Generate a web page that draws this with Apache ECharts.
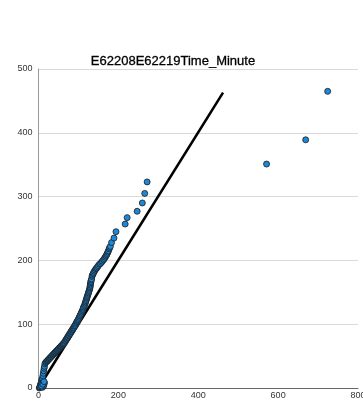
<!DOCTYPE html>
<html><head><meta charset="utf-8">
<script src="https://cdn.jsdelivr.net/npm/echarts@6/dist/echarts.min.js"></script>
<style>html,body{margin:0;padding:0;background:#fff}#c{width:363px;height:402px}</style>
</head><body><div id="c"></div>
<script>
var titleText = 'E62208E62219Time_Minute';
var observed = [
  2,3,4,5,6,7,8,9,10,11,
  12,13,14,15,10,12,13,15,8,11,
  14,16,18,20,21,23,24,26,27,29,
  30,32,33,35,36,38,39,41,42,44,
  45,47,48,50,51,53,54,56,57,59,
  60,62,63,65,66,68,69,71,72,74,
  75,77,78,80,81,83,84,86,87,89,
  90,92,93,95,96,98,99,101,102,104,
  105,107,108,110,111,112,113,115,116,117,
  118,119,120,121,122,123,124,125,126,127,
  128,129,129,130,130,131,131,132,133,134,
  135,137,138,140,142,144,146,148,150,153,
  155,158,160,163,165,167,169,171,172,174,
  175,177,178,180,183,189,194,217,222,247,
  260,266,272,571,669,724];
var expected = [
  0,1,2,5,7,8,12,14,15,19,
  23,27,31,34,1,3,4,8,3,6,
  10,38,40,41,42,43,44,45,46,47,
  48,49,50,51,52,53,54,55,56,57,
  58,59,60,61,62,63,64,65,66,67,
  68,69,70,71,73,74,76,77,79,80,
  82,83,85,86,88,89,91,92,94,95,
  97,98,100,102,104,105,107,109,111,113,
  115,117,119,121,123,125,127,129,131,133,
  135,137,139,141,143,145,147,149,151,153,
  155,157,159,161,163,165,167,169,171,175,
  177,179,181,183,185,187,188,190,192,194,
  195,197,199,201,203,205,207,209,211,213,
  215,218,220,222,228,235,245,257,267,277,
  290,305,323,351,389,465];
var refLineX = [0, 462];
var refLineY = [0, 463];
var xTicks = [0,200,400,600,800];
var yTicks = [0,100,200,300,400,500];

var n = Math.min(observed.length, expected.length);
var pts = [];
for (var i=0;i<n;i++) pts.push([observed[i], expected[i]]);
var linePts = refLineX.map(function(v,i){return [v, refLineY[i]];});

var chart = echarts.init(document.getElementById('c'), null, {renderer:'canvas'});
chart.setOption({
  animation:false,
  title:{text:titleText,left:168,textAlign:'center',top:50,
    textStyle:{fontFamily:'Liberation Sans, Arial, sans-serif',fontSize:13,fontWeight:'normal',color:'#000',
      textBorderColor:'#000',textBorderWidth:0.3}},
  grid:{left:38.5,right:5,top:69,bottom:14,outerBoundsMode:'none',containLabel:false},
  xAxis:{type:'value',min:0,max:800,interval:200,
    axisLine:{show:true,lineStyle:{color:'#666',width:1}},
    axisTick:{show:false},
    splitLine:{show:false},
    axisLabel:{fontFamily:'Liberation Sans, Arial, sans-serif',fontSize:9,color:'#333',margin:3}},
  yAxis:{type:'value',min:0,max:500,interval:100,
    axisLine:{show:true,lineStyle:{color:'#999',width:1}},
    axisTick:{show:false},
    splitLine:{show:true,lineStyle:{color:'#d9d9d9',width:1}},
    axisLabel:{fontFamily:'Liberation Sans, Arial, sans-serif',fontSize:9,color:'#333',margin:6}},
  series:[
    {type:'line',data:linePts,symbol:'none',lineStyle:{color:'#000',width:2.6},z:3},
    {type:'scatter',data:pts,symbolSize:6,
      itemStyle:{color:'#1e88d8',borderColor:'#1a1a1a',borderWidth:0.8,opacity:1},z:4}
  ]
});
</script></body></html>
